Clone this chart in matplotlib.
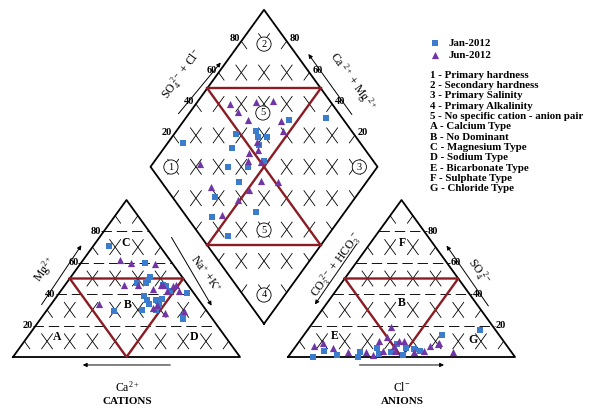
import numpy as np
import matplotlib
matplotlib.use("Agg")
import matplotlib.pyplot as plt

plt.rcParams["font.family"] = ["Liberation Serif", "DejaVu Serif"]
plt.rcParams["mathtext.fontset"] = "custom"
plt.rcParams["mathtext.rm"] = "Liberation Serif"
plt.rcParams["mathtext.it"] = "Liberation Serif:italic"
plt.rcParams["mathtext.bf"] = "Liberation Serif:bold"
plt.rcParams["lines.scale_dashes"] = False

# cation triangle, % of Mg2+ and Na+ + K+ (Ca2+ is the remainder)
jan_mg = [71, 60, 51, 49, 47, 47, 46, 45, 42, 41, 39, 36, 34, 36, 37, 33, 30, 30, 29, 26, 24]
jan_nak = [7, 28, 35, 35, 31, 35, 43, 45, 48, 56, 38, 41, 43, 45, 47, 48, 42, 48, 30, 62, 63]
jun_mg = [62, 60, 59, 46, 46, 43, 46, 46, 45, 46, 42, 42, 31, 33, 34, 28, 29]
jun_nak = [16, 22, 33, 26, 32, 40, 42, 43, 48, 49, 52, 47, 46, 47, 21, 53, 61]

# anion triangle, % of SO4 2- and Cl- (CO3 + HCO3 is the remainder)
jan_so4 = [0, 4, 1, 3, 0, 6, 2, 3, 8, 1, 6, 5, 4, 14, 17]
jan_cl = [11, 14, 21, 30, 31, 36, 39, 44, 44, 50, 49, 53, 56, 61, 76]
jun_so4 = [7, 9, 6, 3, 3, 1, 10, 4, 13, 19, 7, 4, 10, 10, 3, 4, 7, 8, 9, 3]
jun_cl = [8, 11, 17, 25, 33, 37, 35, 40, 37, 36, 43, 45, 44, 46, 54, 58, 59, 62, 62, 71]

# diamond, % of Ca2+ + Mg2+ and SO4 2- + Cl-
jan_camg = [93, 54, 38, 65, 62, 58, 73, 59, 70, 52, 66, 57, 56, 62, 57, 39, 44]
jan_so4cl = [22, 76, 93, 58, 57, 61, 48, 55, 42, 52, 34, 43, 34, 19, 11, 32, 12]
jun_camg = [85, 74, 67, 79, 72, 57, 53, 61, 58, 61, 59, 53, 79, 47, 39, 67, 49, 51, 53]
jun_so4cl = [55, 67, 75, 56, 58, 72, 70, 55, 53, 48, 45, 50, 23, 44, 51, 20, 36, 28, 16]

ticks = [20, 40, 60, 80]
legend_lines = [
    "1 - Primary hardness",
    "2 - Secondary hardness",
    "3 - Primary Salinity",
    "4 - Primary Alkalinity",
    "5 - No specific cation - anion pair",
    "A - Calcium Type",
    "B - No Dominant",
    "C - Magnesium Type",
    "D - Sodium Type",
    "E - Bicarbonate Type",
    "F - Sulphate Type",
    "G - Chloride Type",
]

H = np.sqrt(3) / 2
GAP = 0.2115
X2 = 1 + GAP
BLUE = "#3b7dcc"
PURPLE = "#7136a6"
RED = "#8b1c24"


def cation_xy(mg, nak):
    m, n = np.asarray(mg) / 100, np.asarray(nak) / 100
    return n + m / 2, m * H


def anion_xy(so4, cl):
    s, c = np.asarray(so4) / 100, np.asarray(cl) / 100
    return X2 + c + s / 2, s * H


def diamond_xy(camg, so4cl):
    a, b = np.asarray(camg) / 100, np.asarray(so4cl) / 100
    return 1 + GAP / 2 + 0.5 * (b - a), GAP * H + H * (a + b)


fig = plt.figure(figsize=(5.92, 4.08), dpi=100)
ax = fig.add_axes([0, 0, 1, 1])
ax.set_xlim(-0.0573, 2.5507)
ax.set_ylim(-51 / (157 / H), 357 / (157 / H))
ax.axis("off")

# length of one 10 % step along a slanted grid line, in points
sx = 592 / (ax.get_xlim()[1] - ax.get_xlim()[0])
sy = 408 / (ax.get_ylim()[1] - ax.get_ylim()[0])
STEP = np.hypot(0.05 * sx, 0.1 * H * sy) * 72 / 100


def seg(p0, p1, offset, **kw):
    ax.plot([p0[0], p1[0]], [p0[1], p1[1]], color="k", lw=0.6,
            linestyle=(offset * STEP, (STEP, STEP)), zorder=1, **kw)


# triangle grids
for fn, side in ((cation_xy, "left"), (anion_xy, "right")):
    for k in range(1, 10):
        v = k * 10
        seg(fn(0, v), fn(100 - v, v), 1.5)
        seg(fn(0, 100 - v), fn(100 - v, 0), 1.5)
    for t in ticks:
        x0, y0 = fn(t, 0)
        x1, y1 = fn(t, 100 - t)
        if side == "left":
            x0 -= 0.012
        else:
            x1 += 0.012
        ax.plot([x0, x1], [y0, y1], color="k", lw=0.65, linestyle=(0, (7.5, 3.5)), zorder=1)
    xs, ys = zip(fn(0, 0), fn(0, 100), fn(100, 0), fn(0, 0))
    ax.plot(xs, ys, color="k", lw=1.3, zorder=2)

# diamond grid
for i in range(1, 10):
    off = 0.5 if i % 2 == 0 else 1.5
    seg(diamond_xy(i * 10, 0), diamond_xy(i * 10, 100), off)
    seg(diamond_xy(0, i * 10), diamond_xy(100, i * 10), off)
xs, ys = zip(diamond_xy(0, 0), diamond_xy(100, 0), diamond_xy(100, 100),
             diamond_xy(0, 100), diamond_xy(0, 0))
ax.plot(xs, ys, color="k", lw=1.3, zorder=2)

# "no dominant" outlines
for fn in (cation_xy, anion_xy):
    xs, ys = zip(fn(50, 0), fn(50, 50), fn(0, 50), fn(50, 0))
    ax.plot(xs, ys, color=RED, lw=1.7, zorder=3)
for p, q in (((100, 50), (50, 100)), ((50, 0), (0, 50)),
             ((100, 50), (0, 50)), ((50, 100), (50, 0))):
    xs, ys = zip(diamond_xy(*p), diamond_xy(*q))
    ax.plot(xs, ys, color=RED, lw=1.7, zorder=3)

# samples
sq = dict(marker="s", s=22, color=BLUE, linewidths=0, zorder=4)
tr = dict(marker="^", s=27, color=PURPLE, linewidths=0, zorder=4)
h_jan = ax.scatter(*cation_xy(jan_mg, jan_nak), **sq)
h_jun = ax.scatter(*cation_xy(jun_mg, jun_nak), **tr)
ax.scatter(*anion_xy(jan_so4, jan_cl), **sq)
ax.scatter(*anion_xy(jun_so4, jun_cl), **tr)
ax.scatter(*diamond_xy(jan_camg, jan_so4cl), **sq)
ax.scatter(*diamond_xy(jun_camg, jun_so4cl), **tr)

# tick labels
tk = dict(fontsize=7.5, fontweight="bold", va="center")
for t in ticks:
    x, y = cation_xy(t, 0)
    ax.text(x - 0.012, y, str(t), ha="right", **tk)
    x, y = anion_xy(t, 100 - t)
    ax.text(x + 0.016, y, str(t), ha="left", **tk)
    x, y = diamond_xy(100, t)
    ax.text(x - 0.006, y + 0.014, str(t), ha="right", **tk)
    x, y = diamond_xy(t, 100)
    ax.text(x + 0.012, y + 0.014, str(t), ha="left", **tk)

# axis names with arrows
arr = dict(arrowstyle="-|>", lw=0.7, color="k", mutation_scale=6)
for tail, head in (((0.119, 0.276), (0.308, 0.629)),
                   ((0.692, 0.673), (0.881, 0.270)),
                   ((0.705, -0.044), (0.295, -0.044)),
                   ((2.101, 0.269), (1.903, 0.627)),
                   ((1.521, 0.636), (1.323, 0.277)),
                   ((1.514, -0.044), (1.911, -0.044)),
                   ((0.721, 1.330), (0.923, 1.636)),
                   ((1.500, 1.325), (1.294, 1.684))):
    ax.annotate("", xy=head, xytext=tail, arrowprops=arr)

lab = dict(fontsize=8.5, ha="center", va="center")
ax.text(0.141, 0.485, r"Mg$^{2+}$", rotation=54, **lab)
ax.text(0.846, 0.458, r"Na$^{+}$ +K$^{+}$", rotation=-54, **lab)
ax.text(0.502, -0.168, r"Ca$^{2+}$", **lab)
ax.text(0.502, -0.243, "CATIONS", fontweight="bold", fontsize=8, ha="center", va="center")
ax.text(2.050, 0.470, r"SO$_4^{\ 2-}$", rotation=-54, **lab)
ax.text(1.426, 0.507, r"CO$_3^{\ 2-}$ + HCO$_3^{\ -}$", rotation=54, **lab)
ax.text(1.714, -0.168, r"Cl$^{-}$", **lab)
ax.text(1.714, -0.243, "ANIONS", fontweight="bold", fontsize=8, ha="center", va="center")
ax.text(0.745, 1.561, r"SO$_4^{\ 2-}$ + Cl$^{-}$", rotation=54, **lab)
ax.text(1.495, 1.517, r"Ca$^{\ 2+}$ + Mg$^{\ 2+}$", rotation=-54, **lab)

# region letters
let = dict(fontsize=8.5, fontweight="bold", ha="center", va="center")
for s, x, y in (("A", 0.194, 0.110), ("B", 0.507, 0.287), ("C", 0.498, 0.629),
                ("D", 0.797, 0.110), ("E", 1.419, 0.116), ("B", 1.714, 0.298),
                ("F", 1.714, 0.629), ("G", 2.026, 0.094)):
    ax.text(x, y, s, **let)

# circled diamond fields
cx = 1 + GAP / 2
circ = dict(fontsize=7.5, ha="center", va="center", zorder=5,
            bbox=dict(boxstyle="circle,pad=0.25", fc="white", ec="k", lw=0.6))
for s, x, y in (("1", cx - 0.41, 1.048), ("2", cx, 1.726), ("3", cx + 0.42, 1.048),
                ("5", cx - 0.005, 1.346), ("5", cx, 0.700), ("4", cx, 0.342)):
    ax.text(x, y, s, **circ)

# legend
ax.legend([h_jan, h_jun], ["Jan-2012", "Jun-2012"], loc="upper left",
          bbox_to_anchor=(430.5 / 592, 1 - 38 / 408), frameon=False,
          borderpad=0, borderaxespad=0, handlelength=0.9, handletextpad=0.75,
          labelspacing=0.22, scatterpoints=1,
          prop={"family": "Liberation Serif", "weight": "bold", "size": 7.8})
for i, s in enumerate(legend_lines):
    ax.text(430 / 592, 1 - (75 + i * 10.36) / 408, s, transform=ax.transAxes,
            fontsize=7.8, fontweight="bold", ha="left", va="center")

fig.savefig("out.png", dpi=100)
